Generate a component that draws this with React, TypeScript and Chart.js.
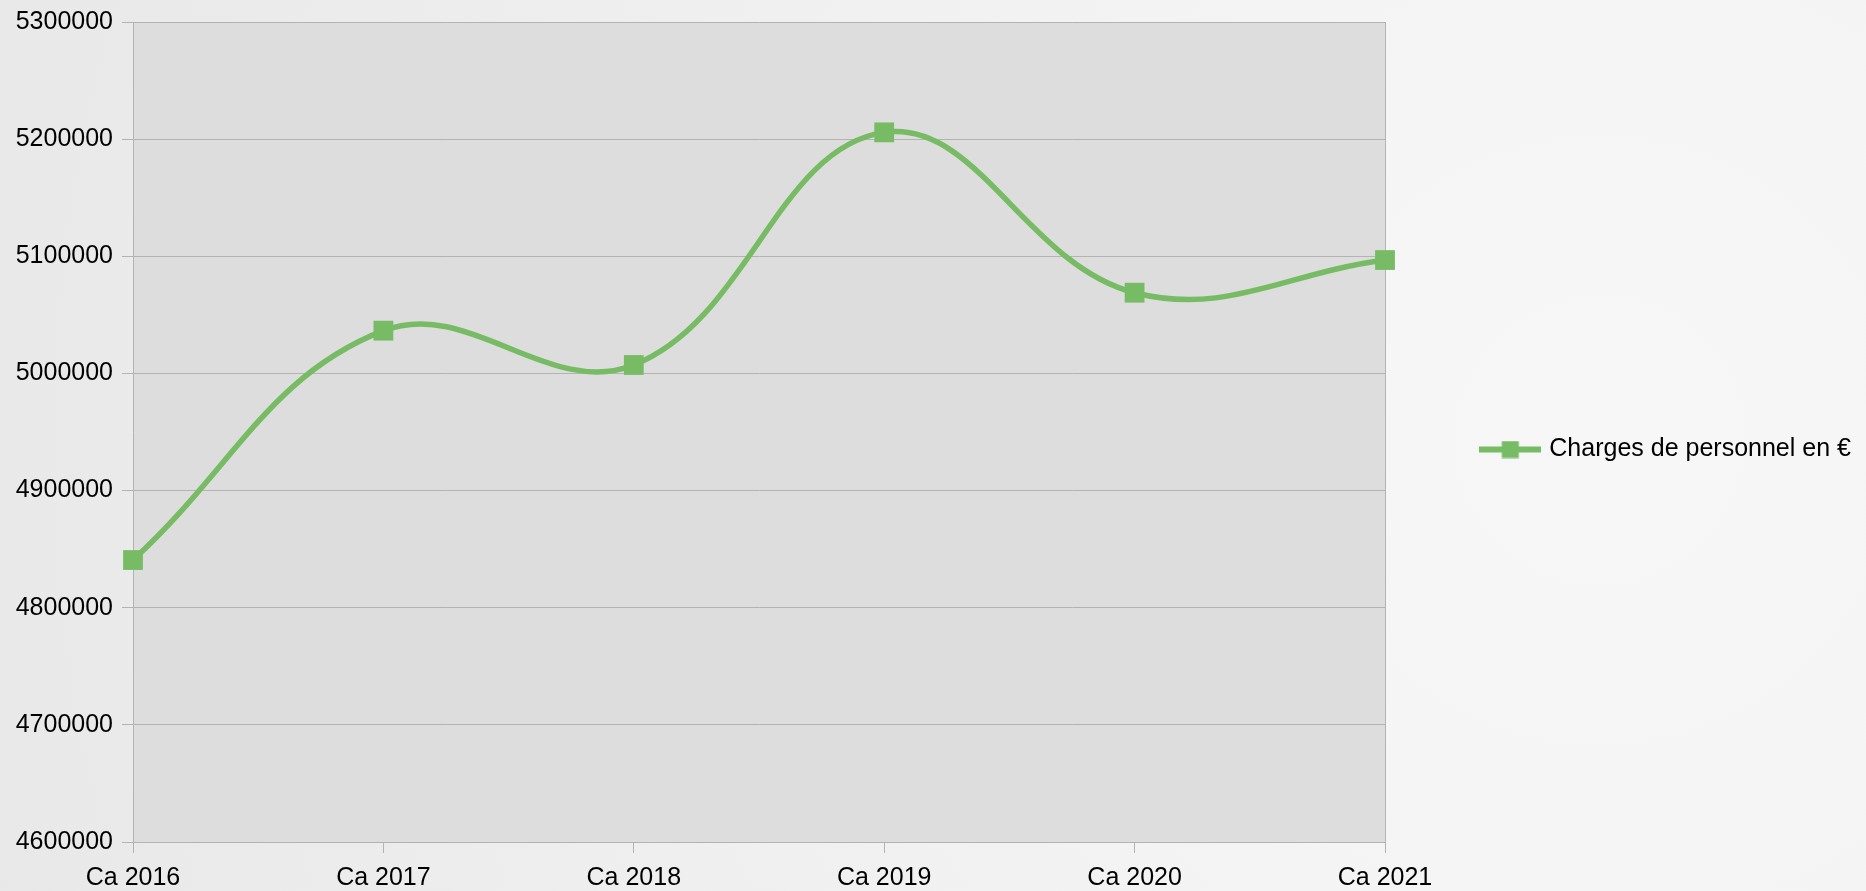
import React, { useEffect, useRef } from "react";
import { Chart, registerables } from "chart.js";

Chart.register(...registerables);

const categories: string[] = ["Ca 2016", "Ca 2017", "Ca 2018", "Ca 2019", "Ca 2020", "Ca 2021"];
const values: number[] = [4840700, 5036500, 5007200, 5205800, 5068900, 5096800];
const seriesLabel = "Charges de personnel en €";
const yMin = 4600000;
const yMax = 5300000;
const yStep = 100000;

const GREEN = "#77bc65";
const GRID = "#b3b3b3";
const FONT = "'Liberation Sans', Arial, sans-serif";

function makeLegendImage(): HTMLCanvasElement {
  const c = document.createElement("canvas");
  c.width = 62;
  c.height = 18;
  const ctx = c.getContext("2d")!;
  ctx.fillStyle = GREEN;
  ctx.fillRect(0, 6, 62, 6);
  ctx.fillRect(22.5, 0.5, 17, 17);
  return c;
}

const bgPlugin = {
  id: "bgPlugin",
  beforeDraw(chart: any) {
    const { ctx, width, height, chartArea } = chart;
    ctx.save();
    const g = ctx.createRadialGradient(1600, 440, 0, 1600, 440, 1700);
    g.addColorStop(0, "#f7f7f7");
    g.addColorStop(0.25, "#f5f5f5");
    g.addColorStop(1, "#e8e8e8");
    ctx.fillStyle = g;
    ctx.fillRect(0, 0, width, height);
    ctx.fillStyle = "#dddddd";
    ctx.fillRect(chartArea.left, chartArea.top, chartArea.right - chartArea.left, chartArea.bottom - chartArea.top);
    ctx.restore();
  },
  beforeDatasetsDraw(chart: any) {
    const { ctx, chartArea } = chart;
    ctx.save();
    ctx.strokeStyle = GRID;
    ctx.lineWidth = 1;
    ctx.beginPath();
    ctx.moveTo(Math.round(chartArea.right) + 0.5, chartArea.top);
    ctx.lineTo(Math.round(chartArea.right) + 0.5, chartArea.bottom);
    ctx.stroke();
    ctx.restore();
  },
};

export default function App() {
  const ref = useRef<HTMLCanvasElement | null>(null);

  useEffect(() => {
    document.body.style.margin = "0";
    document.body.style.overflow = "hidden";
    if (!ref.current) return;
    const legendImg = makeLegendImage();
    const chart = new Chart(ref.current, {
      type: "line",
      data: {
        labels: categories,
        datasets: [
          {
            label: seriesLabel,
            data: values,
            borderColor: GREEN,
            backgroundColor: GREEN,
            borderWidth: 5.5,
            tension: 0.4,
            pointStyle: "rect",
            pointRadius: 14,
            pointBorderWidth: 0,
            pointBackgroundColor: GREEN,
            fill: false,
          },
        ],
      },
      options: {
        animation: false,
        responsive: true,
        maintainAspectRatio: false,
        layout: { padding: { top: 8, right: 5.1, bottom: 0, left: 15 } },
        plugins: {
          tooltip: { enabled: false },
          legend: {
            position: "right",
            maxWidth: 2000,
            labels: {
              usePointStyle: true,
              pointStyleWidth: 53,
              padding: 98.8,
              color: "#000",
              font: { family: FONT, size: 25, lineHeight: 1 },
              generateLabels: (c: any) => {
                const items = (Chart.defaults.plugins.legend.labels as any).generateLabels(c);
                return items.map((it: any) => ({ ...it, pointStyle: legendImg, lineWidth: 0 }));
              },
            },
          },
        },
        scales: {
          x: {
            offset: false,
            afterFit: (scale: any) => {
              scale.height = 49;
            },
            grid: {
              display: true,
              drawOnChartArea: false,
              drawTicks: true,
              tickLength: 11,
              color: GRID,
            },
            border: { display: true, color: GRID, width: 1 },
            ticks: {
              color: "#000",
              padding: 10,
              maxRotation: 0,
              font: { family: FONT, size: 25, lineHeight: 1.2 },
            },
          },
          y: {
            min: yMin,
            max: yMax,
            afterFit: (scale: any) => {
              scale.width = 118;
            },
            grid: { color: GRID, tickLength: 11, lineWidth: 1 },
            border: { display: true, color: GRID, width: 1 },
            ticks: {
              stepSize: yStep,
              color: "#000",
              padding: 9,
              font: { family: FONT, size: 25, lineHeight: 1.04 },
              callback: (v: any) => String(v),
            },
          },
        },
      },
      plugins: [bgPlugin],
    });
    return () => chart.destroy();
  }, []);

  return (
    <div style={{ position: "absolute", left: 0, top: 0, width: "1866px", height: "891px" }}>
      <canvas ref={ref} />
    </div>
  );
}
